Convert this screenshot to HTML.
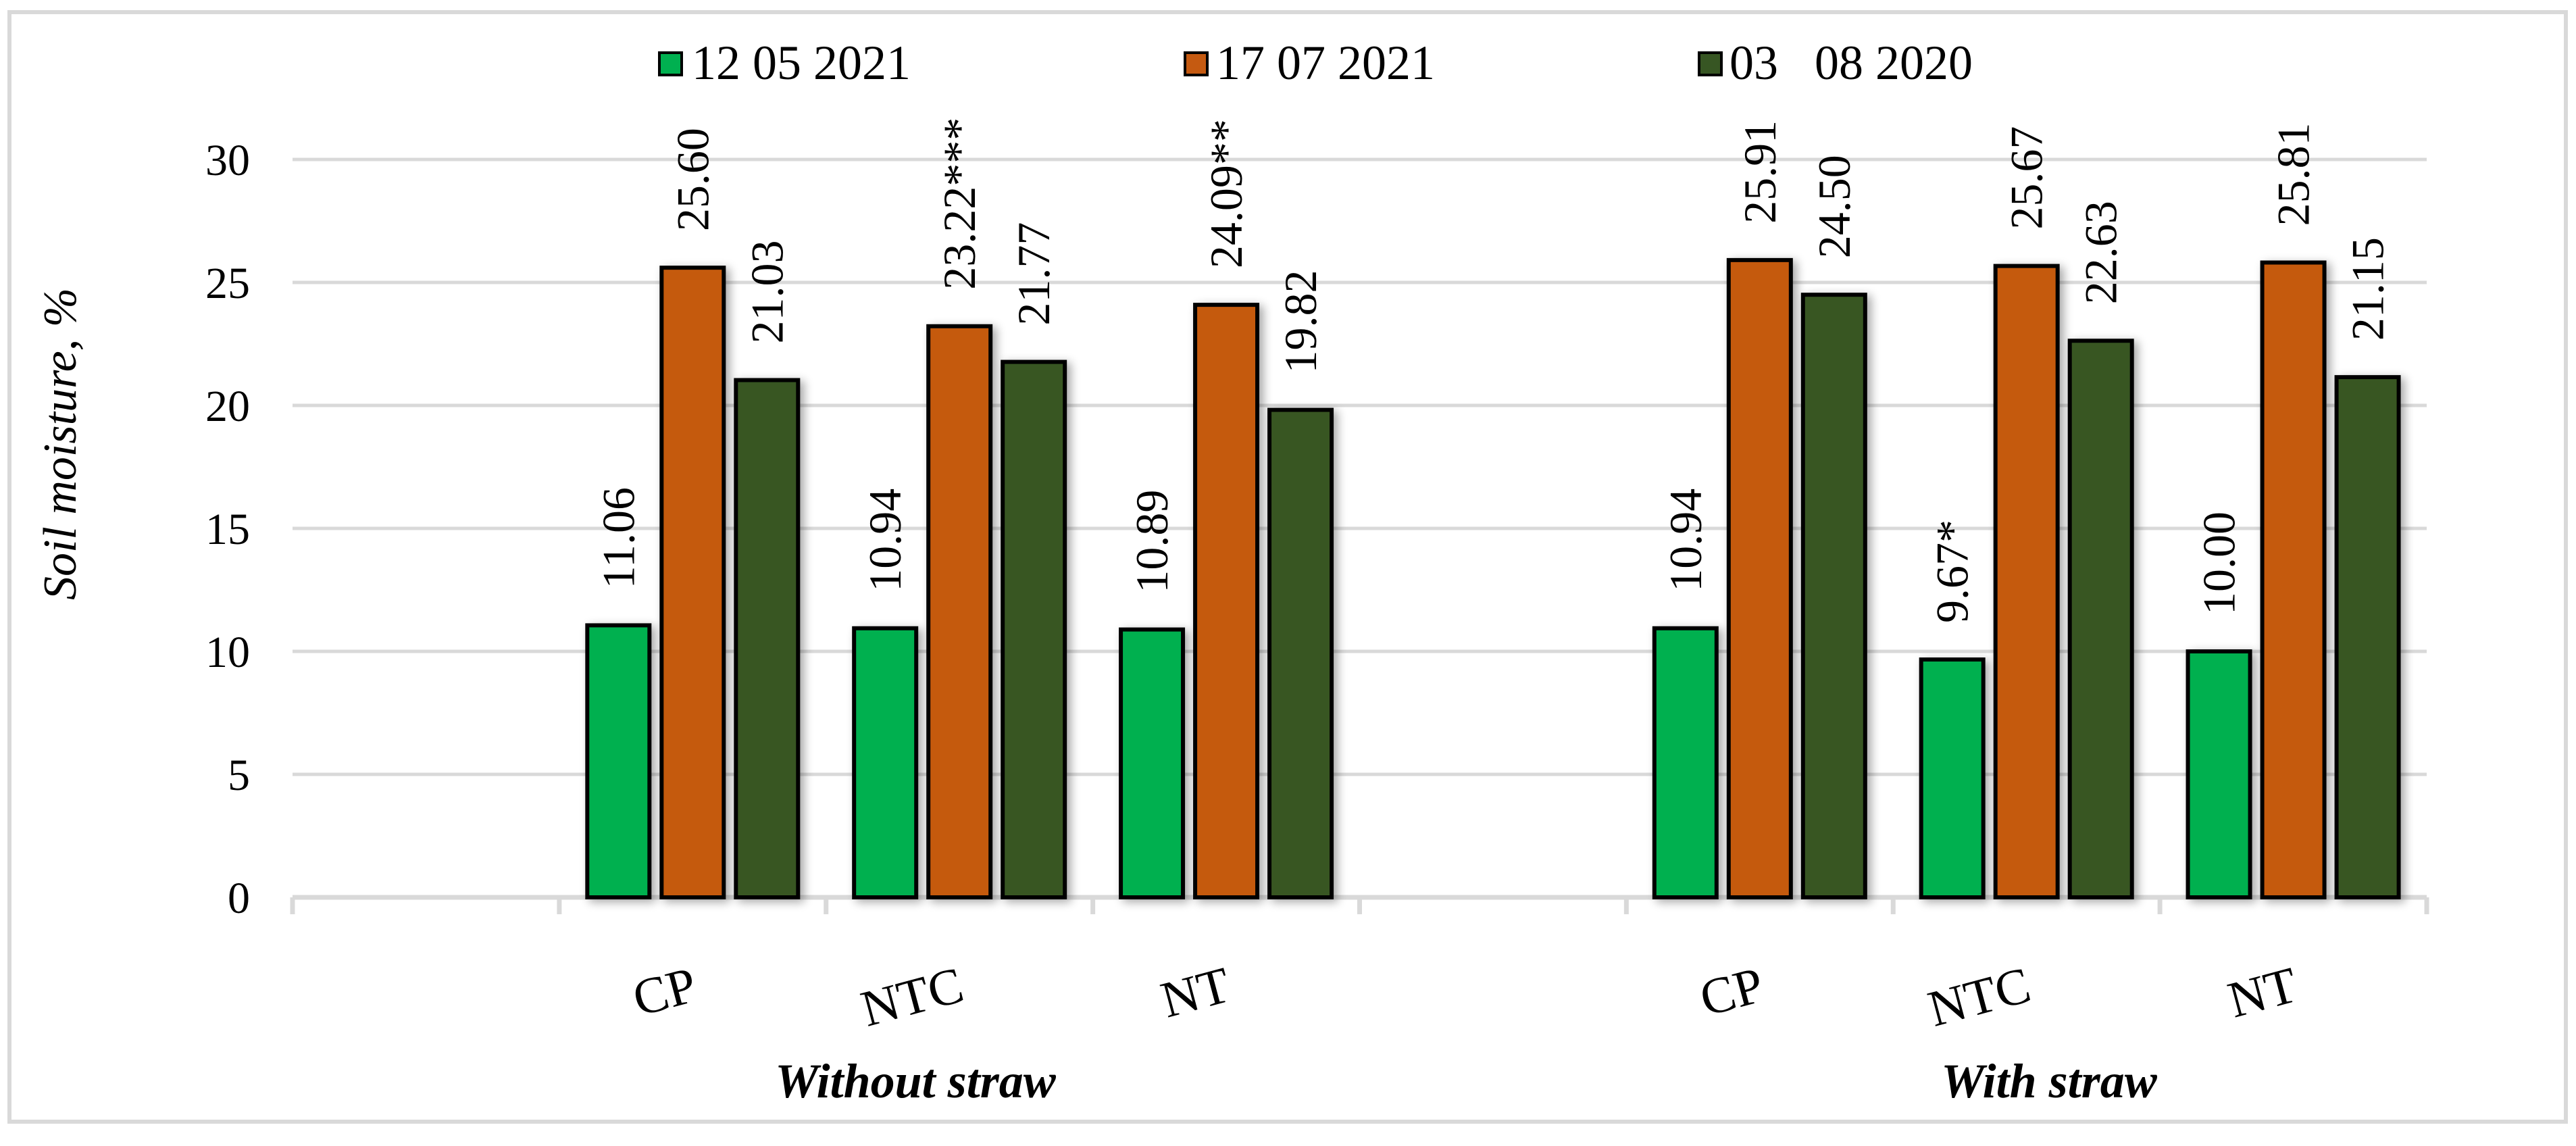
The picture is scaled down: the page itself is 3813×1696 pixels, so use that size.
<!DOCTYPE html>
<html><head><meta charset="utf-8"><style>
html,body{margin:0;padding:0;background:#fff;}
svg, svg text{font-family:"Liberation Serif","Times New Roman",Times,"DejaVu Serif",serif !important;}
</style></head><body>
<svg id="chart" width="3813" height="1691" viewBox="0 0 3813 1691" xmlns="http://www.w3.org/2000/svg" style="font-family:'Liberation Serif','Times New Roman',Times,'DejaVu Serif',serif">
<defs>
<filter id="sh" x="-20%" y="-5%" width="150%" height="115%"><feGaussianBlur in="SourceAlpha" stdDeviation="7"/><feOffset dx="6" dy="4"/><feComponentTransfer><feFuncA type="linear" slope="0.35"/></feComponentTransfer><feMerge><feMergeNode/><feMergeNode in="SourceGraphic"/></feMerge></filter>
</defs>
<rect x="14" y="18" width="3784" height="1642" fill="#fff" stroke="#d9d9d9" stroke-width="6"/>
<g id="grid"></g>
<g id="bars"></g>
<g id="labels"></g>
<g>
 <g><rect x="976" y="78" width="33" height="33" fill="#00b050" stroke="#000" stroke-width="4"/><text x="1024" y="117" font-size="72">12 05 2021</text></g>
 <g><rect x="1754" y="78" width="33" height="33" fill="#c55a11" stroke="#000" stroke-width="4"/><text x="1800" y="117" font-size="72">17 07 2021</text></g>
 <g><rect x="2515" y="78" width="33" height="33" fill="#375623" stroke="#000" stroke-width="4"/><text x="2560" y="117" font-size="72" xml:space="preserve">03   08 2020</text></g>
</g>
<text x="0" y="0" font-size="70" font-style="italic" text-anchor="middle" transform="translate(112,657) rotate(-90)">Soil moisture, %</text>
<text x="1355" y="1624" font-size="72" font-weight="bold" font-style="italic" text-anchor="middle">Without straw</text>
<text x="3033" y="1624" font-size="72" font-weight="bold" font-style="italic" text-anchor="middle">With straw</text>
</svg>
<script>
const categories = ["", "CP", "NTC", "NT", "", "CP", "NTC", "NT"];
const seriesNames = ["12 05 2021", "17 07 2021", "03 08 2020"];
const s1 = [null, 11.06, 10.94, 10.89, null, 10.94, 9.67, 10.00];
const s2 = [null, 25.60, 23.22, 24.09, null, 25.91, 25.67, 25.81];
const s3 = [null, 21.03, 21.77, 19.82, null, 24.50, 22.63, 21.15];
const s1Labels = ["", "11.06", "10.94", "10.89", "", "10.94", "9.67*", "10.00"];
const s2Labels = ["", "25.60", "23.22***", "24.09**", "", "25.91", "25.67", "25.81"];
const s3Labels = ["", "21.03", "21.77", "19.82", "", "24.50", "22.63", "21.15"];
const yTicks = [0, 5, 10, 15, 20, 25, 30];

const NS = "http://www.w3.org/2000/svg";
const X0 = 433, X1 = 3592, Y0 = 1328, Y30 = 236;
const slotW = (X1 - X0) / categories.length;
function yScale(v){ return Y0 - (v / 30) * (Y0 - Y30); }
function xCenter(i){ return X0 + slotW * (i + 0.5); }
function mk(tag, attrs, parent){ const e = document.createElementNS(NS, tag); for (const k in attrs) e.setAttribute(k, attrs[k]); parent.appendChild(e); return e; }

const grid = document.getElementById('grid');
yTicks.forEach(t => {
  const y = yScale(t);
  if (t > 0) {
    const l = mk('line', {x1: X0, x2: X1, y1: y, y2: y, stroke: '#d9d9d9', 'stroke-width': 5}, grid);
    
    
  }
  const tx = mk('text', {x: 370, y: y + 23, 'font-size': 66, 'text-anchor': 'end'}, grid);
  tx.textContent = t;
  
  
});
const ax = mk('line', {x1: X0, x2: X1, y1: Y0, y2: Y0, stroke: '#d9d9d9', 'stroke-width': 7}, grid);


for (let i = 0; i <= categories.length; i++) {
  const x = X0 + slotW * i;
  const tk = mk('line', {x1: x, x2: x, y1: Y0, y2: Y0 + 25, stroke: '#d9d9d9', 'stroke-width': 7}, grid);
  
  
}

const bars = document.getElementById('bars');
const labels = document.getElementById('labels');
const series = [s1, s2, s3];
const seriesLabels = [s1Labels, s2Labels, s3Labels];
const colors = ['#00b050', '#c55a11', '#375623'];
const barW = 92, step = 110;
categories.forEach((c, i) => {
  if (c) {
    const cl = mk('text', {x: 0, y: 0, 'font-size': 76, 'text-anchor': 'end', transform: 'translate(' + (xCenter(i) + 10) + ',1480) rotate(-15)'}, labels);
    cl.textContent = c;
    
    
  }
  series.forEach((s, k) => {
    const v = s[i];
    if (v === null) return;
    const cx = xCenter(i) + (k - 1) * step;
    const y = yScale(v);
    const r = mk('rect', {x: cx - barW / 2, y: y, width: barW, height: Y0 - y, fill: colors[k], stroke: '#000', 'stroke-width': 6, filter: 'url(#sh)'}, bars);
    
    
    const t = mk('text', {x: 0, y: 0, 'font-size': 68, 'text-anchor': 'start', transform: 'translate(' + (cx + 23) + ',' + (y - 54) + ') rotate(-90)'}, labels);
    t.textContent = seriesLabels[k][i];
    
    
  });
});
</script>
</body></html>
